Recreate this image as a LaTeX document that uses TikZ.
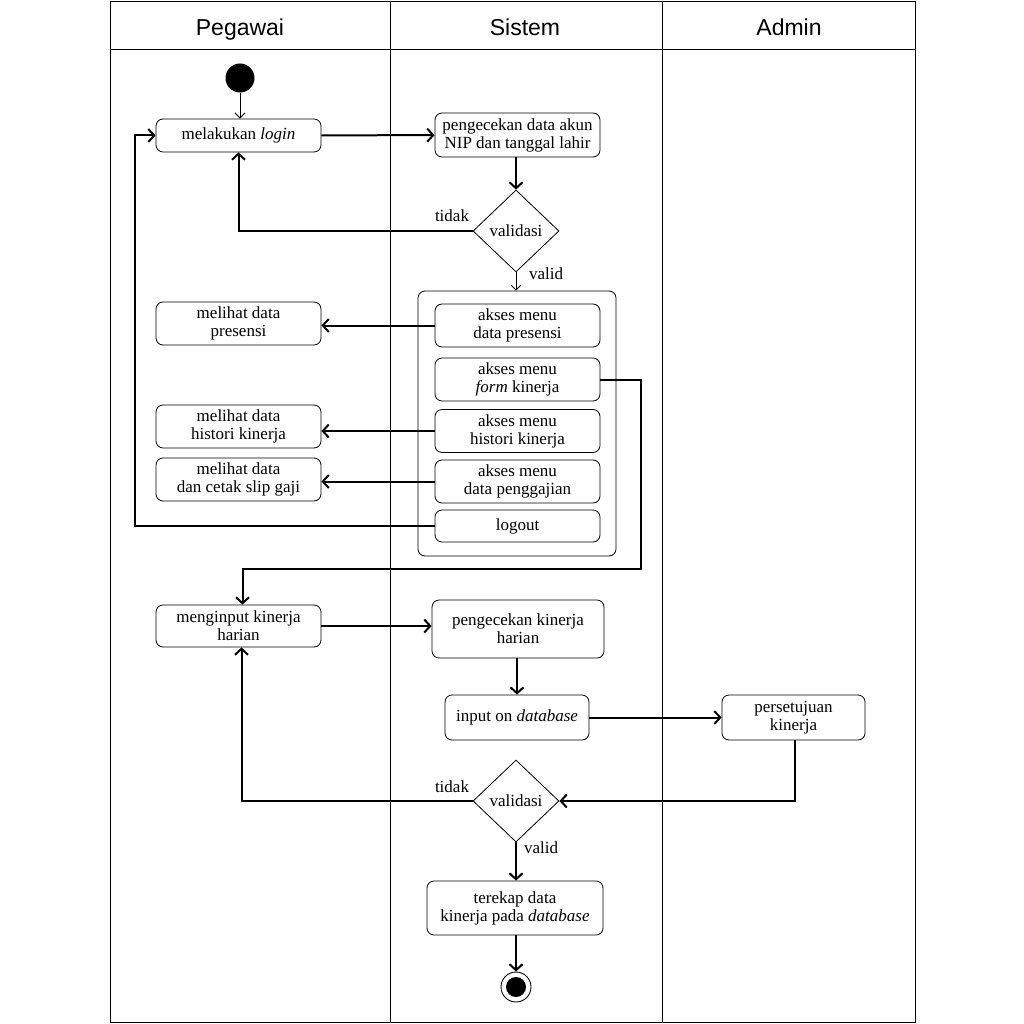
\documentclass[tikz,border=0pt]{standalone}
\usepackage{fontspec}
\setmainfont{Liberation Serif}
\newfontfamily\hdrfont{Liberation Sans}
\usetikzlibrary{arrows.meta,shapes.geometric}
\begin{document}
\begin{tikzpicture}[x=1pt,y=-1pt,
  box/.style={draw,rounded corners=7pt,line width=0.8pt,align=center,inner sep=0pt,
    font=\fontsize{17}{18}\selectfont},
  dec/.style={draw,diamond,line width=0.8pt,inner sep=0pt,minimum width=86pt,minimum height=82pt,
    font=\fontsize{17}{18}\selectfont},
  lbl/.style={font=\fontsize{17}{18}\selectfont,inner sep=0pt},
  hdr/.style={font=\hdrfont\fontsize{23}{26}\selectfont,inner sep=0pt,anchor=base},
  flow/.style={line width=2pt,-{Straight Barb[length=6pt,width=13pt]}},
  thin/.style={line width=0.9pt,-{Straight Barb[length=5pt,width=10pt]}},
  lane/.style={line width=0.9pt}]
\useasboundingbox (0,0) rectangle (1024,1024);
\fill[white] (0,0) rectangle (1024,1024);
% swimlanes
\draw[lane] (110,1) rectangle (915,1022);
\draw[lane] (110,49) -- (915,49);
\draw[lane] (390,1) -- (390,1022);
\draw[lane] (662,1) -- (662,1022);
\node[hdr] (hp) at (240,36) {Pegawai};
\node[hdr] (hs) at (525,36) {Sistem};
\node[hdr] (ha) at (789,36) {Admin};
% start
\node[circle,fill=black,inner sep=0pt,minimum size=29pt] (start) at (240,78) {};
% nodes
\node[box,minimum width=165pt,minimum height=33pt] (login) at (238.5,135.5) {melakukan \textit{login}};
\node[box,minimum width=165pt,minimum height=44pt] (cek) at (517.5,135) {pengecekan data akun\\NIP dan tanggal lahir};
\node[dec] (d1) at (516,231) {validasi};
\node[lbl] (t1) at (452,216) {tidak};
\node[lbl] (v1) at (546,274) {valid};
\node[draw,rounded corners=7pt,line width=0.8pt,minimum width=198pt,minimum height=265pt,inner sep=0pt] (grp) at (517,423.5) {};
\node[box,minimum width=165pt,minimum height=43pt] (m1) at (517.5,325.5) {akses menu\\data presensi};
\node[box,minimum width=165pt,minimum height=43pt] (m2) at (517.5,379.5) {akses menu\\\textit{form} kinerja};
\node[box,minimum width=165pt,minimum height=43pt] (m3) at (517.5,431) {akses menu\\histori kinerja};
\node[box,minimum width=165pt,minimum height=43pt] (m4) at (517.5,481.5) {akses menu\\data penggajian};
\node[box,minimum width=165pt,minimum height=32pt] (lo) at (517.5,526) {logout};
\node[box,minimum width=165pt,minimum height=43pt] (l1) at (238.5,323.5) {melihat data\\presensi};
\node[box,minimum width=165pt,minimum height=43pt] (l3) at (238.5,426.5) {melihat data\\histori kinerja};
\node[box,minimum width=165pt,minimum height=43pt] (l4) at (238.5,479.5) {melihat data\\dan cetak slip gaji};
\node[box,minimum width=165pt,minimum height=42pt] (inp) at (238.5,626) {menginput kinerja\\harian};
\node[box,minimum width=172pt,minimum height=58pt] (ck2) at (518,629) {pengecekan kinerja\\harian};
\node[box,minimum width=144pt,minimum height=45pt] (db) at (517,717.5) {input on \textit{database}};
\node[box,minimum width=143pt,minimum height=45pt] (acc) at (793.5,717.5) {persetujuan\\kinerja};
\node[dec] (d2) at (516,801) {validasi};
\node[lbl] (t2) at (452,787) {tidak};
\node[lbl] (v2) at (541,848) {valid};
\node[box,minimum width=176pt,minimum height=54pt] (rek) at (515,908) {terekap data\\kinerja pada \textit{database}};
\node[circle,draw,line width=0.9pt,inner sep=0pt,minimum size=30pt] (end) at (516,987) {};
\fill (end.center) circle (10pt);
% connectors
\draw[thin] (start) -- (start |- login.north);
\draw[flow] (login) -- (cek);
\draw[flow] (cek.south -| d1) -- (d1);
\draw[flow] (d1.west) -| (login.south);
\draw[thin] (d1.south) -- (d1.south |- grp.north);
\draw[flow] (m1) -- (l1.east |- m1);
\draw[flow] (m3.west) -- (l3.east |- m3.west);
\draw[flow] (m4.west) -- (l4.east |- m4.west);
\coordinate (lb) at (135,526);
\draw[flow] (lo.west) -- (lb) |- (login.west);
\coordinate (fr) at (641,569);
\draw[flow] (m2.east) -| (fr) -| ([xshift=4pt]inp.north);
\draw[flow] (inp) -- (ck2.west |- inp);
\draw[flow] (ck2.south -| db) -- (db);
\draw[flow] (db) -- (acc);
\draw[flow] ([xshift=1pt]acc.south) |- (d2.east);
\draw[flow] (d2.west) -| ([xshift=3pt]inp.south);
\draw[flow] (d2.south) -- (d2.south |- rek.north);
\draw[flow] (rek.south -| end) -- (end);
\end{tikzpicture}
\end{document}
